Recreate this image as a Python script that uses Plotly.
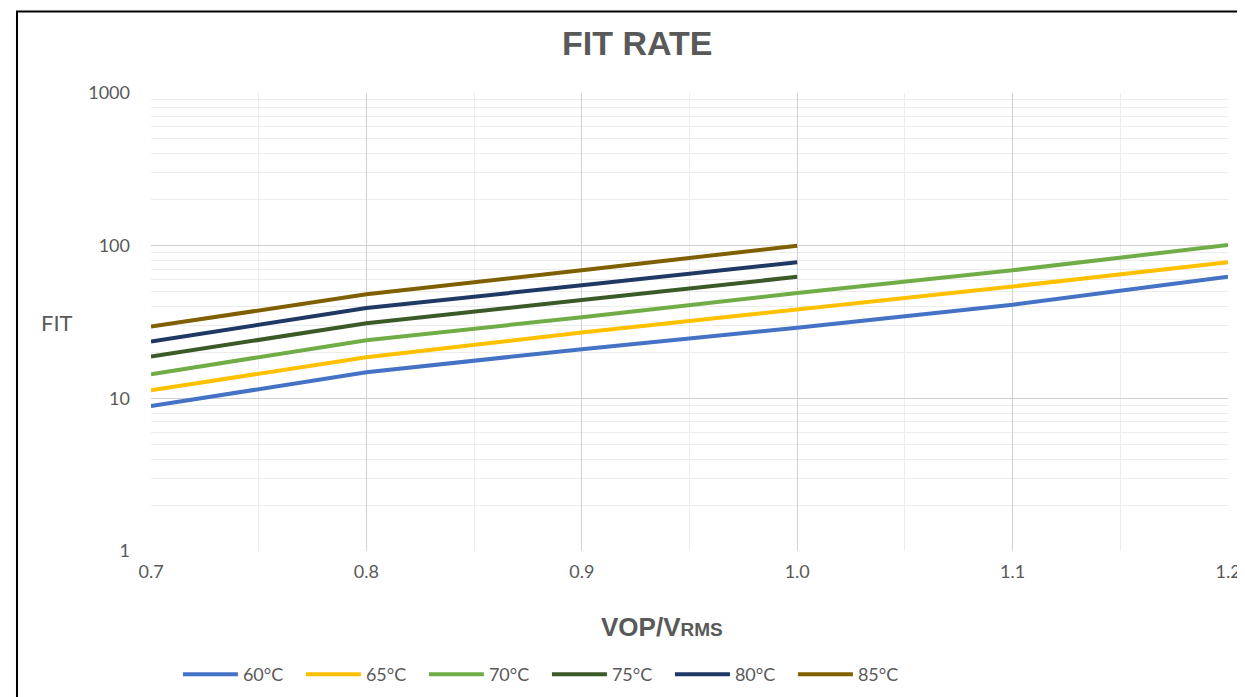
import plotly.graph_objects as go

x_vals = [0.7, 0.8, 0.9, 1.0, 1.1, 1.2]
x_short = [0.7, 0.8, 0.9, 1.0]

fit_60 = [8.9, 14.8, 21, 29, 41, 62.5]
fit_65 = [11.3, 18.6, 27, 38, 54, 78]
fit_70 = [14.4, 24, 34, 49, 69, 101]
fit_75 = [18.8, 31, 44, 62.5]
fit_80 = [23.6, 39, 55, 78]
fit_85 = [29.5, 48, 69, 100]

series = [
    ("60°C", x_vals, fit_60, "#4472C4"),
    ("65°C", x_vals, fit_65, "#FFC000"),
    ("70°C", x_vals, fit_70, "#70AD47"),
    ("75°C", x_short, fit_75, "#3A5A27"),
    ("80°C", x_short, fit_80, "#1F3864"),
    ("85°C", x_short, fit_85, "#7F6000"),
]

x_ticks = [0.7, 0.8, 0.9, 1.0, 1.1, 1.2]
x_tick_text = ["0.7", "0.8", "0.9", "1.0", "1.1", "1.2"]
y_ticks = [1, 10, 100, 1000]
y_tick_text = ["1", "10", "100", "1000"]

GRAY = "#595959"
FONT = "Lato, Open Sans, sans-serif"
BOLD_FONT = "Liberation Sans, Arial, sans-serif"

fig = go.Figure()
for name, xs, ys, color in series:
    fig.add_trace(go.Scatter(x=xs, y=ys, mode="lines", name=name,
                             line=dict(color=color, width=4)))

fig.update_layout(
    width=1245, height=697,
    paper_bgcolor="white", plot_bgcolor="white",
    margin=dict(l=143, r=16, t=85, b=146),
    font=dict(family=FONT, color=GRAY, size=18),
    showlegend=True,
    legend=dict(orientation="h", x=0.025, xanchor="left", y=-0.27, yanchor="middle",
                font=dict(size=18, color=GRAY), entrywidth=53, entrywidthmode="pixels",
                itemwidth=55, bgcolor="rgba(0,0,0,0)"),
    xaxis=dict(range=[0.7, 1.2], tickvals=x_ticks, ticktext=x_tick_text,
               showgrid=True, gridcolor="#d0d0d0", gridwidth=1,
               zeroline=False, showline=False, ticks="",
               tickfont=dict(size=18, color=GRAY), ticklabelstandoff=8,
               ticklabeloverflow="allow",
               minor=dict(dtick=0.05, tick0=0.7, showgrid=True, gridcolor="#ececec")),
    yaxis=dict(type="log", range=[0, 3], tickvals=y_ticks, ticktext=y_tick_text,
               showgrid=True, gridcolor="#d0d0d0", gridwidth=1,
               zeroline=False, showline=False, ticks="",
               tickfont=dict(size=18, color=GRAY), ticklabelstandoff=20,
               minor=dict(dtick="D1", showgrid=True, gridcolor="#ececec")),
)

fig.add_annotation(text="<b>FIT RATE</b>", xref="paper", yref="paper",
                   x=(640 - 150) / 1085, y=(553 - 42) / 461, showarrow=False,
                   font=dict(size=34, color=GRAY, family=BOLD_FONT), xanchor="center", yanchor="middle")
fig.add_annotation(text="<b>VOP/V<span style='font-size:19px'>RMS</span></b>", xref="paper", yref="paper",
                   x=(665 - 150) / 1085, y=(553 - 630) / 461, showarrow=False,
                   font=dict(size=26, color=GRAY, family=BOLD_FONT), xanchor="center", yanchor="middle")
fig.add_annotation(text="FIT", xref="paper", yref="paper",
                   x=(55 - 150) / 1085, y=(553 - 323) / 461, showarrow=False,
                   font=dict(size=22, color=GRAY, family=FONT), xanchor="center", yanchor="middle")

fig.add_shape(type="rect", xref="paper", yref="paper",
              x0=(15 - 150) / 1085, x1=1.05, y0=-0.4, y1=(553 - 10) / 461,
              line=dict(color="black", width=2), fillcolor="rgba(0,0,0,0)", layer="above")

fig.write_html("out.html")
